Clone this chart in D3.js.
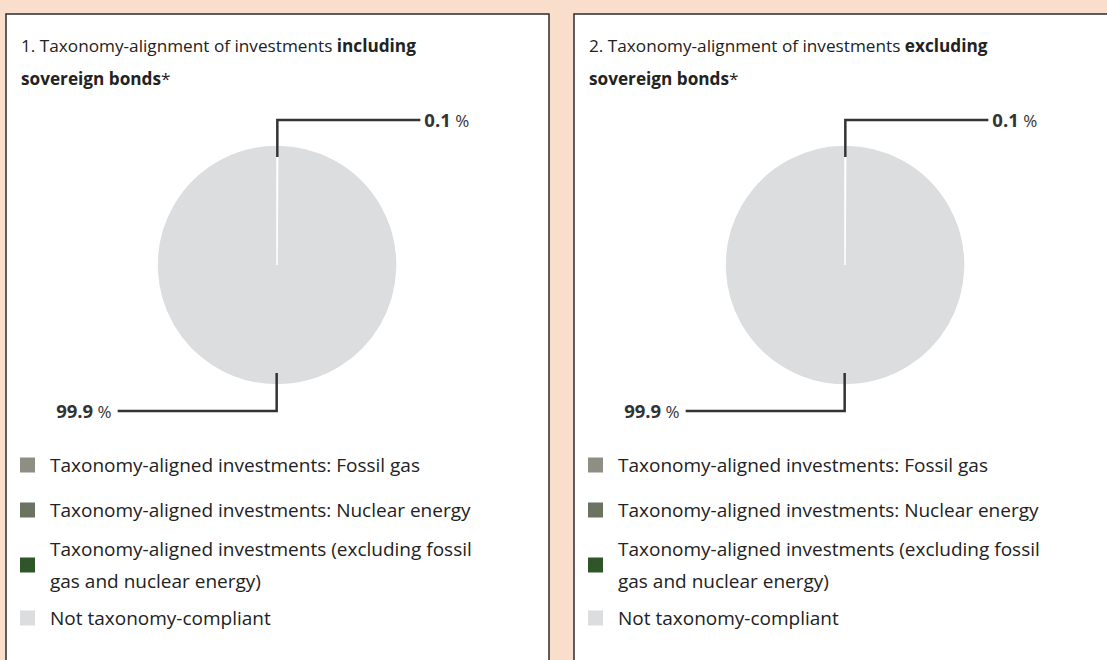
<!DOCTYPE html>
<html>
<head>
<meta charset="utf-8">
<script src="https://cdn.jsdelivr.net/npm/d3@7"></script>
<style>
  body { margin: 0; background: #f9dfcb; }
  svg { display: block; font-family: "Open Sans", sans-serif; }
</style>
</head>
<body>
<div id="canvas"></div>
<script>
var w = 1107;
var h = 660;

// data
var categories = [
  "Taxonomy-aligned investments: Fossil gas",
  "Taxonomy-aligned investments: Nuclear energy",
  "Taxonomy-aligned investments (excluding fossil gas and nuclear energy)",
  "Not taxonomy-compliant"
];
var colors = ["#8e8f82", "#6b7363", "#2f5628", "#dcdddf"];
var includingValues = [0, 0, 0.1, 99.9];
var excludingValues = [0, 0, 0.1, 99.9];
var titlesRegular = ["1. Taxonomy-alignment of investments ", "2. Taxonomy-alignment of investments "];
var titlesBold = ["including", "excluding"];

var charts = [
  {values: includingValues, regular: titlesRegular[0], bold: titlesBold[0]},
  {values: excludingValues, regular: titlesRegular[1], bold: titlesBold[1]}
];

var canvas = d3.select("#canvas")
  .append("svg")
  .attr("width", w)
  .attr("height", h)
  .style("background-color", "#f9dfcb");

var pie = d3.pie().sort(null).value(d => d.value);
var radius = 120;
var arc = d3.arc().innerRadius(0).outerRadius(radius);

charts.forEach(function(c, i) {
  var g = canvas.append("g")
    .attr("transform", `translate(${6 + i * 568}, 14)`);

  g.append("rect")
    .attr("x", 0)
    .attr("y", 0)
    .attr("width", 543)
    .attr("height", 700)
    .attr("fill", "white")
    .attr("stroke", "#2b2b2b")
    .attr("stroke-width", 1.5);

  // title
  var t1 = g.append("text")
    .attr("x", 15)
    .attr("y", 38)
    .attr("font-size", 17.2)
    .attr("fill", "#222");
  t1.append("tspan").text(c.regular);
  t1.append("tspan").attr("font-weight", "bold").text(c.bold);

  var t2 = g.append("text")
    .attr("x", 15)
    .attr("y", 71)
    .attr("font-size", 17.2)
    .attr("fill", "#222");
  t2.append("tspan").attr("font-weight", "bold").text("sovereign bonds");
  t2.append("tspan").text("*");

  // pie
  var data = categories.map((name, k) => ({name: name, value: c.values[k], color: colors[k]}));
  var arcs = pie(data).filter(d => d.value > 0);
  var cx = 271, cy = 251;
  var pg = g.append("g").attr("transform", `translate(${cx}, ${cy})`);

  pg.selectAll("path")
    .data(arcs)
    .join("path")
    .attr("d", arc)
    .attr("fill", d => d.data.color)
    .attr("stroke", "white")
    .attr("stroke-width", 1.5);

  // leader lines and labels
  arcs.forEach(function(d) {
    var mid = (d.startAngle + d.endAngle) / 2;
    var top = Math.cos(mid) > 0;
    var x0 = Math.sin(mid) * 108;
    var y0 = -Math.cos(mid) * 108;
    var yElbow = top ? -145 : 146;
    var xEnd = top ? x0 + 143 : x0 - 159;

    pg.append("path")
      .attr("d", `M ${x0} ${y0} L ${x0} ${yElbow} L ${xEnd} ${yElbow}`)
      .attr("fill", "none")
      .attr("stroke", "#333")
      .attr("stroke-width", 2.5);

    var lab = pg.append("text")
      .attr("x", top ? xEnd + 4 : xEnd - 6)
      .attr("y", yElbow + 6.5)
      .attr("text-anchor", top ? "start" : "end")
      .attr("font-size", 18.5)
      .attr("fill", "#333");
    lab.append("tspan").attr("font-weight", "bold").text(d3.format(".1f")(d.value));
    lab.append("tspan").attr("font-size", 17).text(" %");
  });

  // legend
  var legendY = [451, 496, 551, 604];
  var lg = g.selectAll(".legend")
    .data(data)
    .join("g")
    .attr("class", "legend")
    .attr("transform", (d, k) => `translate(14, ${legendY[k]})`);

  lg.append("rect")
    .attr("x", 0)
    .attr("y", -7.5)
    .attr("width", 15)
    .attr("height", 15)
    .attr("fill", d => d.color);

  lg.each(function(d) {
    var item = d3.select(this);
    var words = d.name.split(" ");
    var lines = [];
    var line = "";
    var tester = item.append("text").attr("font-size", 19);
    words.forEach(function(word) {
      var test = line ? line + " " + word : word;
      tester.text(test);
      if (tester.node().getComputedTextLength() > 440 && line) {
        lines.push(line);
        line = word;
      } else {
        line = test;
      }
    });
    lines.push(line);
    tester.remove();

    var txt = item.append("text")
      .attr("x", 30)
      .attr("font-size", 19)
      .attr("fill", "#222");
    lines.forEach(function(l, n) {
      txt.append("tspan")
        .attr("x", 30)
        .attr("y", 6.5 + (n - (lines.length - 1) / 2) * 32)
        .text(l);
    });
  });
});
</script>
</body>
</html>
